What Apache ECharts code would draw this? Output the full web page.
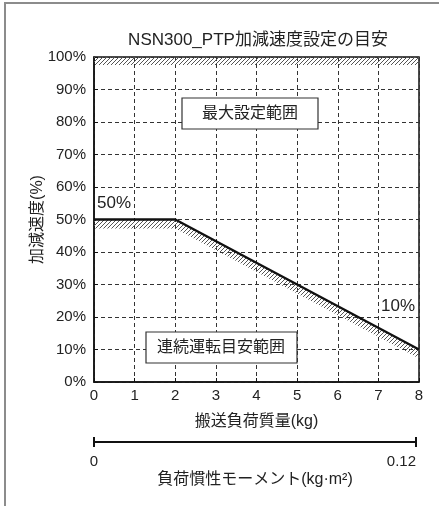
<!DOCTYPE html>
<html><head><meta charset="utf-8">
<script src="https://cdn.jsdelivr.net/npm/echarts@6/dist/echarts.min.js"></script>
<style>html,body{margin:0;padding:0;background:#fff}#c{width:439px;height:506px}</style>
</head><body><div id="c"></div>
<script>
const chartTitle = 'NSN300_PTP加減速度設定の目安';
const xName = '搬送負荷質量(kg)';
const yName = '加減速度(%)';
const x2Name = '負荷慣性モーメント(kg·m²)';
const loadMass = [0, 2, 8];
const accel = [50, 50, 10];
const maxSettingX = [0, 8];
const maxSettingY = 100;
const inertiaRange = [0, 0.12];
const regionLabels = ['最大設定範囲', '連続運転目安範囲'];
const valueLabels = ['50%', '10%'];

const FONT = '"Liberation Sans", "Noto Sans CJK JP", sans-serif';
const TXT = '#222';

function makeHatch() {
  const c = document.createElement('canvas'); c.width = 4; c.height = 4;
  const g = c.getContext('2d');
  g.strokeStyle = '#555'; g.lineWidth = 1;
  g.beginPath();
  g.moveTo(0, 4); g.lineTo(4, 0);
  g.moveTo(-1, 1); g.lineTo(1, -1);
  g.moveTo(3, 5); g.lineTo(5, 3);
  g.stroke();
  return c;
}
const hatch = { image: makeHatch(), repeat: 'repeat' };

const chart = echarts.init(document.getElementById('c'), null, { renderer: 'canvas' });
const splitStyle = { show: true, lineStyle: { color: '#333', type: [4, 3], width: 1 } };

chart.setOption({
  animation: false,
  textStyle: { fontFamily: FONT },
  grid: [
    { left: 94, right: 20, top: 57, height: 325, show: true, borderColor: '#111', borderWidth: 1.5, backgroundColor: 'transparent' },
    { left: 94, right: 23, top: 437, height: 5 }
  ],
  xAxis: [
    { gridIndex: 0, type: 'value', min: 0, max: 8, interval: 1, position: 'bottom',
      axisLine: { lineStyle: { color: '#111', width: 1.5 } },
      axisTick: { inside: true, length: 4, lineStyle: { color: '#111' } },
      axisLabel: { color: TXT, fontSize: 15, margin: 6, fontFamily: FONT },
      splitLine: splitStyle,
      name: xName, nameLocation: 'middle', nameGap: 32, nameMoveOverlap: false,
      nameTextStyle: { color: TXT, fontSize: 16, fontFamily: FONT } },
    { gridIndex: 1, type: 'value', min: inertiaRange[0], max: inertiaRange[1], interval: inertiaRange[1], position: 'bottom',
      axisLine: { lineStyle: { color: '#111', width: 2 } },
      axisTick: { length: 5, lineStyle: { color: '#111', width: 2 } },
      axisLabel: { color: TXT, fontSize: 15, margin: 12, fontFamily: FONT, alignMaxLabel: 'right',
        formatter: v => String(v) },
      splitLine: { show: false },
      name: x2Name, nameLocation: 'middle', nameGap: 30, nameMoveOverlap: false,
      nameTextStyle: { color: TXT, fontSize: 16, fontFamily: FONT } },
    { gridIndex: 1, type: 'value', min: inertiaRange[0], max: inertiaRange[1], interval: inertiaRange[1], position: 'bottom',
      axisLine: { show: false },
      axisTick: { inside: true, length: 5, lineStyle: { color: '#111', width: 2 } },
      axisLabel: { show: false }, splitLine: { show: false } }
  ],
  yAxis: [
    { gridIndex: 0, type: 'value', min: 0, max: 100, interval: 10,
      axisLine: { show: true, lineStyle: { color: '#111', width: 1.5 } },
      axisTick: { show: true, inside: true, length: 4, lineStyle: { color: '#111' } },
      axisLabel: { color: TXT, fontSize: 15, margin: 8, formatter: '{value}%', fontFamily: FONT },
      splitLine: splitStyle,
      name: yName, nameLocation: 'middle', nameGap: 48, nameRotate: 90, nameMoveOverlap: false,
      nameTextStyle: { color: TXT, fontSize: 16, fontFamily: FONT } },
    { gridIndex: 1, type: 'value', show: false }
  ],
  series: [
    { type: 'custom', xAxisIndex: 0, yAxisIndex: 0, z: 2, silent: true,
      data: [[maxSettingX[0], maxSettingY]],
      renderItem: function (params, api) {
        const a = api.coord([maxSettingX[0], maxSettingY]);
        const b = api.coord([maxSettingX[1], maxSettingY]);
        return { type: 'polygon', shape: { points: [a, b, [b[0], b[1] + 8], [a[0], a[1] + 8]] },
          style: { fill: hatch } };
      } },
    { type: 'custom', xAxisIndex: 0, yAxisIndex: 0, z: 2, silent: true,
      data: [[loadMass[0], accel[0]]],
      renderItem: function (params, api) {
        const pts = loadMass.map((m, i) => api.coord([m, accel[i]]));
        const low = pts.slice().reverse().map(p => [p[0], p[1] + 9]);
        return { type: 'polygon', shape: { points: pts.concat(low) }, style: { fill: hatch } };
      } },
    { type: 'line', xAxisIndex: 0, yAxisIndex: 0, z: 5, symbol: 'none',
      data: loadMass.map((m, i) => [m, accel[i]]),
      lineStyle: { color: '#111', width: 2.5 } }
  ],
  graphic: [
    { type: 'rect', z: 0, shape: { x: 5, y: 3, width: 600, height: 700 },
      style: { fill: 'none', stroke: '#8c8c8c', lineWidth: 2 } },
    { type: 'text', x: 258, y: 40, z: 10,
      style: { text: chartTitle, fill: TXT, font: '17px ' + FONT, align: 'center', verticalAlign: 'middle' } },
    { type: 'rect', z: 10, shape: { x: 182, y: 98, width: 136, height: 31 },
      style: { fill: '#fff', stroke: '#333', lineWidth: 1.2 } },
    { type: 'text', z: 11, x: 250, y: 114,
      style: { text: regionLabels[0], fill: TXT, font: '16px ' + FONT, align: 'center', verticalAlign: 'middle' } },
    { type: 'rect', z: 10, shape: { x: 146, y: 332, width: 151, height: 31 },
      style: { fill: '#fff', stroke: '#333', lineWidth: 1.2 } },
    { type: 'text', z: 11, x: 221, y: 348,
      style: { text: regionLabels[1], fill: TXT, font: '16px ' + FONT, align: 'center', verticalAlign: 'middle' } },
    { type: 'text', z: 11, x: 97, y: 203,
      style: { text: valueLabels[0], fill: TXT, font: '17px ' + FONT, align: 'left', verticalAlign: 'middle' } },
    { type: 'text', z: 11, x: 415, y: 306,
      style: { text: valueLabels[1], fill: TXT, font: '17px ' + FONT, align: 'right', verticalAlign: 'middle' } }
  ]
});
</script>
</body></html>
